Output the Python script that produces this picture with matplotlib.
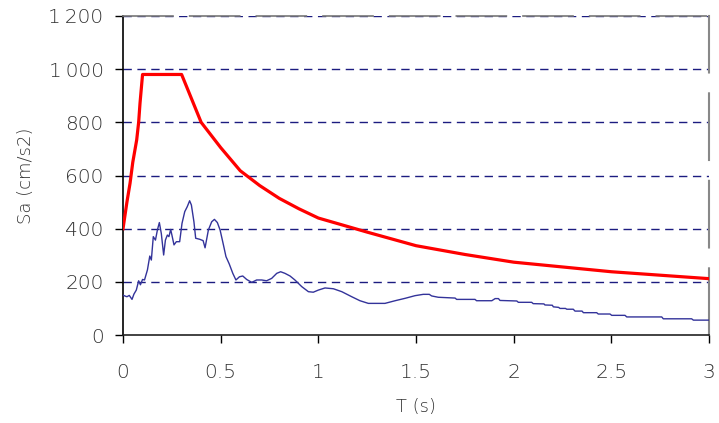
import matplotlib
matplotlib.use("Agg")
import matplotlib.pyplot as plt
from matplotlib.ticker import FixedLocator

plt.rcParams['font.family'] = ['DejaVu Sans']

# Design spectrum (period in s, spectral acceleration in cm/s2)
design_T = [0.0, 0.02, 0.036, 0.05, 0.07, 0.08, 0.087, 0.1, 0.3, 0.4, 0.5, 0.6,
            0.7, 0.8, 0.9, 1.0, 1.25, 1.5, 1.75, 2.0, 2.5, 3.0]
design_Sa = [400, 500, 571, 650, 734, 800, 872, 980, 980, 800, 705, 618,
             562, 514, 475, 440, 387, 336, 303, 274, 238, 212]

# Recorded response spectrum
record_T = [0.0, 0.009, 0.02, 0.032, 0.046, 0.056, 0.068, 0.08, 0.089, 0.1,
            0.11, 0.125, 0.137, 0.145, 0.155, 0.166, 0.176, 0.186, 0.196, 0.208,
            0.217, 0.227, 0.235, 0.244, 0.252, 0.261, 0.273, 0.29, 0.302, 0.316,
            0.329, 0.341, 0.35, 0.363, 0.372, 0.393, 0.41, 0.42, 0.437, 0.454,
            0.468, 0.483, 0.497, 0.514, 0.527, 0.544, 0.562, 0.578, 0.596, 0.613,
            0.633, 0.659, 0.684, 0.71, 0.735, 0.761, 0.787, 0.807, 0.829, 0.855,
            0.88, 0.915, 0.949, 0.974, 1.0, 1.034, 1.077, 1.12, 1.171, 1.213,
            1.256, 1.341, 1.393, 1.444, 1.495, 1.537, 1.568, 1.58, 1.614, 1.7,
            1.708, 1.802, 1.81, 1.888, 1.905, 1.922, 1.93, 2.016, 2.024, 2.092,
            2.1, 2.155, 2.16, 2.198, 2.203, 2.23, 2.237, 2.265, 2.272, 2.305,
            2.314, 2.35, 2.357, 2.425, 2.433, 2.493, 2.502, 2.57, 2.579, 2.758,
            2.766, 2.911, 2.92, 3.0]
record_Sa = [150, 147, 144, 149, 134, 154, 169, 204, 189, 209,
             207, 245, 297, 282, 370, 357, 395, 423, 382, 301,
             357, 376, 370, 397, 370, 339, 351, 351, 420, 464,
             483, 505, 489, 426, 364, 360, 355, 328, 395, 426,
             435, 423, 395, 339, 295, 267, 232, 207, 219, 222,
             209, 198, 207, 207, 204, 213, 232, 238, 232, 222,
             207, 182, 163, 161, 169, 177, 174, 163, 144, 129,
             119, 119, 129, 138, 148, 153, 153, 147, 142, 139,
             134, 134, 129, 129, 137, 137, 130, 128, 123, 123,
             118, 117, 113, 112, 106, 104, 100, 100, 97, 97,
             90, 90, 84, 84, 79, 79, 74, 74, 68, 68,
             61, 61, 56, 56]

x_ticks = [0, 0.5, 1, 1.5, 2, 2.5, 3]
x_labels = ["0", "0.5", "1", "1.5", "2", "2.5", "3"]
y_ticks = [0, 200, 400, 600, 800, 1000, 1200]
y_labels = ["0", "200", "400", "600", "800", "1\u2009000", "1\u2009200"]

fig = plt.figure(figsize=(7.19, 4.23), dpi=100)
ax = fig.add_axes([0.1711, 0.2080, 0.8150, 0.7542])

ax.set_xlim(0, 3)
ax.set_ylim(0, 1200)

# dashed horizontal grid
for y in y_ticks[1:]:
    ax.axhline(y, color='#1c1c80', lw=1.0, dashes=(6, 4), zorder=1)

ax.plot(record_T, record_Sa, color='#33339a', lw=1.0, zorder=3)
ax.plot(design_T, design_Sa, color='#ff0000', lw=2.3, zorder=4,
        solid_joinstyle='round')

# frame
ax.spines['left'].set_color('black')
ax.spines['left'].set_linewidth(1.2)
ax.spines['bottom'].set_color('#222222')
ax.spines['bottom'].set_linewidth(1.2)
ax.spines['top'].set_color('#777777')
ax.spines['top'].set_linewidth(1.2)
ax.spines['top'].set_linestyle((0, (30, 10)))
ax.spines['right'].set_color('#888888')
ax.spines['right'].set_linewidth(1.5)
ax.spines['right'].set_linestyle((0, (32, 10)))

ax.xaxis.set_major_locator(FixedLocator(x_ticks))
ax.set_xticklabels(x_labels)
ax.yaxis.set_major_locator(FixedLocator(y_ticks))
ax.set_yticklabels(y_labels)
ax.tick_params(axis='both', direction='out', length=6, width=1.0,
               color='black', labelsize=14.5, labelcolor='#333333')
ax.tick_params(axis='x', pad=14)
ax.tick_params(axis='y', pad=8)
for lbl in ax.get_xticklabels() + ax.get_yticklabels():
    lbl.set_fontweight('light')

ax.set_xlabel("T (s)", fontsize=13, color='#333333', labelpad=12,
              fontweight='light')
ax.set_ylabel("Sa (cm/s2)", fontsize=13, color='#333333', labelpad=10,
              fontweight='light')

fig.savefig("out.png", dpi=100)
